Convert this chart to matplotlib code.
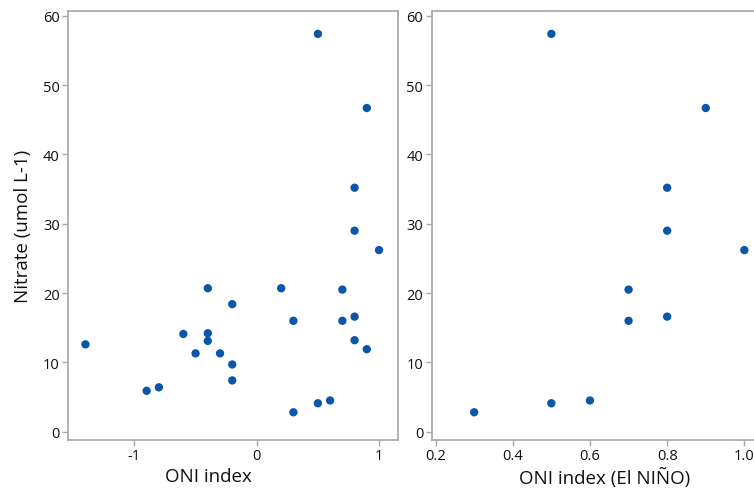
import matplotlib
matplotlib.use("Agg")
import matplotlib.pyplot as plt

plt.rcParams['font.family'] = ['Open Sans', 'DejaVu Sans']

# Left panel: all data
oni_all = [-1.4, -0.9, -0.8, -0.6, -0.5, -0.4, -0.4, -0.4, -0.3, -0.2, -0.2, -0.2,
           0.2, 0.3, 0.3, 0.5, 0.5, 0.6, 0.7, 0.7, 0.8, 0.8, 0.8, 0.8, 0.9, 0.9, 1.0]
nitrate_all = [12.6, 5.9, 6.4, 14.1, 11.3, 20.7, 14.2, 13.1, 11.3, 18.4, 9.7, 7.4,
               20.7, 16.0, 2.8, 4.1, 57.4, 4.5, 20.5, 16.0, 16.6, 13.2, 29.0, 35.2, 11.9, 46.7, 26.2]

# Right panel: El Nino
oni_nino = [0.3, 0.5, 0.5, 0.6, 0.7, 0.7, 0.8, 0.8, 0.8, 0.9, 1.0]
nitrate_nino = [2.8, 4.1, 57.4, 4.5, 20.5, 16.0, 16.6, 29.0, 35.2, 46.7, 26.2]

left_ticks = [-1, 0, 1]
left_ticklabels = ["-1", "0", "1"]
right_ticks = [0.2, 0.4, 0.6, 0.8, 1.0]
right_ticklabels = ["0.2", "0.4", "0.6", "0.8", "1.0"]
y_ticks = [0, 10, 20, 30, 40, 50, 60]

W, H = 754, 489
fig = plt.figure(figsize=(W / 100, H / 100), dpi=100)

ax1 = fig.add_axes([68 / W, (H - 441) / H, 330 / W, 429 / H])
ax2 = fig.add_axes([431.7 / W, (H - 441) / H, 330 / W, 429 / H])

color = '#0a56a8'
spine_c = '#a6a6a6'
text_c = '#111111'

for ax in (ax1, ax2):
    ax.set_ylim(-1.2, 60.7)
    ax.set_yticks(y_ticks)
    for s in ax.spines.values():
        s.set_color(spine_c)
        s.set_linewidth(1.2)
    ax.tick_params(axis='both', direction='out', length=4, width=1, color=spine_c,
                   labelsize=10.5, labelcolor=text_c, pad=2)

ax1.scatter(oni_all, nitrate_all, s=36, color=color, edgecolors='none', zorder=3)
ax1.set_xlim(-1.543, 1.155)
ax1.set_xticks(left_ticks)
ax1.set_xticklabels(left_ticklabels)
ax1.set_xlabel("ONI index", fontsize=13.5, color=text_c)
ax1.xaxis.set_label_coords(0.427, -0.064)
ax1.set_ylabel("Nitrate (umol L-1)", fontsize=13.5, color=text_c, labelpad=8)

ax2.scatter(oni_nino, nitrate_nino, s=36, color=color, edgecolors='none', zorder=3, clip_on=False)
ax2.set_xlim(0.19, 0.19 + 330 / 386)
ax2.set_xticks(right_ticks)
ax2.set_xticklabels(right_ticklabels)
ax2.set_xlabel("ONI index (El NIÑO)", fontsize=13.5, color=text_c)
ax2.xaxis.set_label_coords(0.525, -0.064)

fig.savefig("out.png", dpi=100)
